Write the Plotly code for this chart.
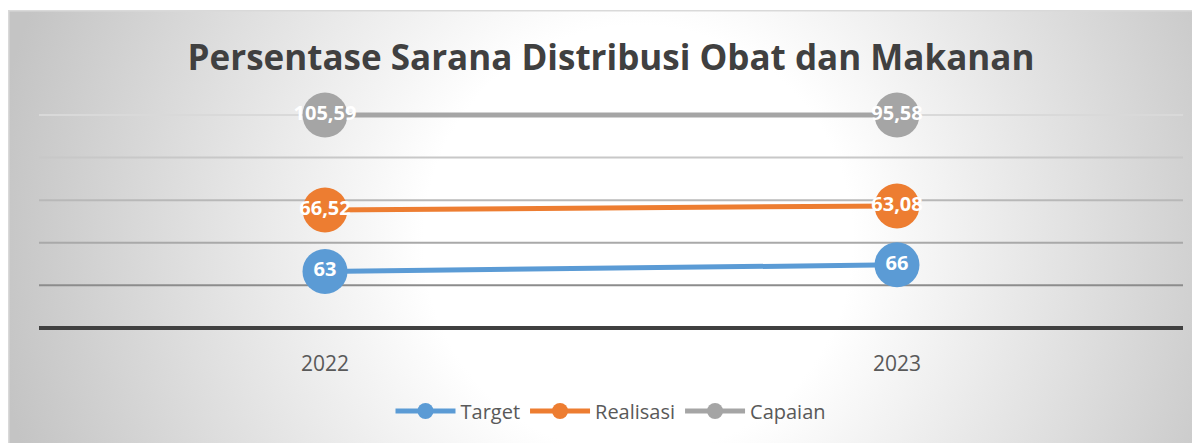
"""Persentase Sarana Distribusi Obat dan Makanan - line chart."""

import base64

import plotly.graph_objects as go

years = ["2022", "2023"]

# positions (the series are drawn stacked)
target_y = [66.3, 74.1]
realisasi_y = [138.5, 143.2]
capaian_y = [249.8, 249.8]

# data labels as printed in the chart
target_lbl = ["63", "66"]
realisasi_lbl = ["66,52", "63,08"]
capaian_lbl = ["105,59", "95,58"]

grid_vals = [50, 100, 150, 200, 250]
grid_cols = ["#8C8C8C", "#A9A9A9", "#B8B8B8", "#C8C8C8", "#D9D9D9"]

# the page draws the figure 8px in from the top left, so the margins make up for it
W, H = 1200, 443
L, R, T, B = 31, 25, 92, 125
PW, PH = W - L - R, H - T - B

FONT = "Open Sans, Noto Sans, sans-serif"

# radial gradient for the chart area (svg as data uri)
svg = f"""<svg xmlns='http://www.w3.org/2000/svg' width='1200' height='441'>
<defs><radialGradient id='g' gradientUnits='userSpaceOnUse' cx='630' cy='230' r='650'>
<stop offset='0' stop-color='#ffffff'/><stop offset='0.33' stop-color='#ffffff'/>
<stop offset='1' stop-color='#c4c4c4'/></radialGradient></defs>
<rect x='0.75' y='0.75' width='1198.5' height='445' fill='url(#g)' stroke='#d9d9d9' stroke-width='1.5'/></svg>"""
bg_src = "data:image/svg+xml;base64," + base64.b64encode(svg.encode()).decode()

series = [
    ("Target", target_y, target_lbl, "#5B9BD5"),
    ("Realisasi", realisasi_y, realisasi_lbl, "#ED7D31"),
    ("Capaian", capaian_y, capaian_lbl, "#A5A5A5"),
]

fig = go.Figure()
for name, ys, lbl, col in series:
    fig.add_trace(
        go.Scatter(
            x=years,
            y=ys,
            name=name,
            mode="lines+markers+text",
            text=lbl,
            textposition="middle center",
            textfont=dict(family=FONT, size=20, color="white", weight="bold"),
            line=dict(color=col, width=5),
            marker=dict(color=col, size=45),
            cliponaxis=False,
        )
    )

shapes = []
for v, c in zip(grid_vals, grid_cols):
    shapes.append(dict(type="line", xref="paper", x0=0, x1=1, yref="y", y0=v, y1=v,
                       line=dict(color=c, width=2), layer="below"))

fig.update_layout(
    width=W,
    height=H,
    margin=dict(l=L, r=R, t=T, b=B),
    paper_bgcolor="white",
    plot_bgcolor="rgba(0,0,0,0)",
    title=dict(
        text="Persentase Sarana Distribusi Obat dan Makanan",
        x=603 / W,
        xanchor="center",
        y=1 - 50 / H,
        yanchor="middle",
        font=dict(family=FONT, size=35, color="#404040", weight="bold"),
    ),
    xaxis=dict(
        type="category",
        range=[-0.5, 1.5],
        showgrid=False,
        showline=True,
        linecolor="#404040",
        linewidth=4,
        zeroline=False,
        ticks="",
        ticklabelstandoff=16,
        tickfont=dict(family=FONT, size=21, color="#595959"),
    ),
    yaxis=dict(
        range=[2.3, 267.5],
        showgrid=False,
        zeroline=False,
        showticklabels=False,
        fixedrange=True,
    ),
    showlegend=True,
    legend=dict(
        orientation="h",
        x=(603 - L) / PW,
        xanchor="center",
        y=(H - B - 403) / PH,
        yanchor="middle",
        font=dict(family=FONT, size=20, color="#595959"),
        bgcolor="rgba(0,0,0,0)",
        itemwidth=60,
    ),
    shapes=shapes,
    images=[
        dict(
            source=bg_src,
            xref="paper",
            yref="paper",
            x=-L / PW,
            y=(H - B - 2) / PH,
            sizex=W / PW,
            sizey=441 / PH,
            xanchor="left",
            yanchor="top",
            sizing="stretch",
            layer="below",
        )
    ],
)

fig.write_html("out.html")
